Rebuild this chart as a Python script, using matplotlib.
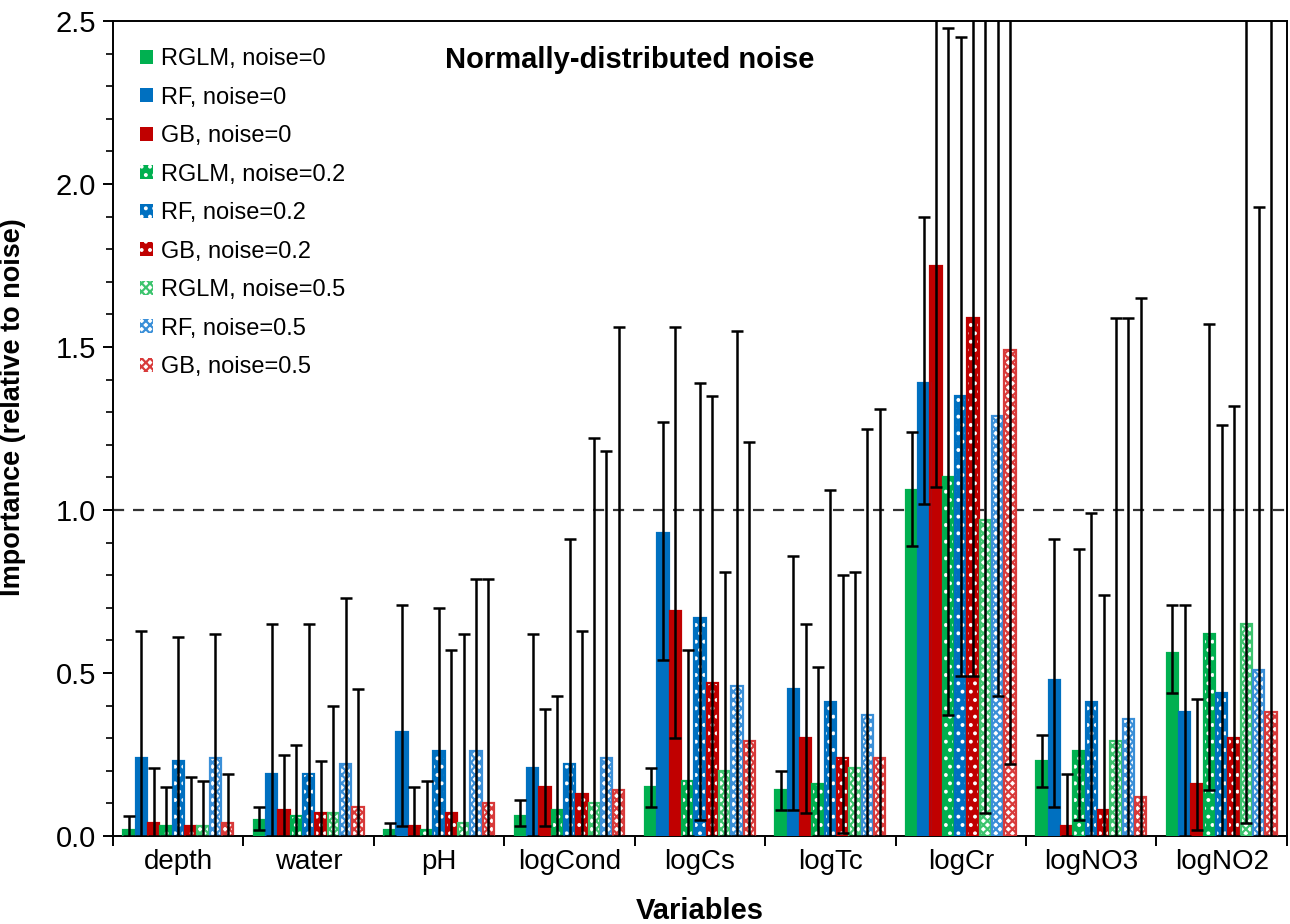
import matplotlib
matplotlib.use("Agg")
import matplotlib.pyplot as plt
import numpy as np
from matplotlib.patches import Patch

plt.rcParams['font.family'] = ['Liberation Sans', 'DejaVu Sans']
plt.rcParams['hatch.linewidth'] = 1.6

variables = ['depth', 'water', 'pH', 'logCond', 'logCs', 'logTc', 'logCr', 'logNO3', 'logNO2']

series = ['RGLM, noise=0', 'RF, noise=0', 'GB, noise=0',
          'RGLM, noise=0.2', 'RF, noise=0.2', 'GB, noise=0.2',
          'RGLM, noise=0.5', 'RF, noise=0.5', 'GB, noise=0.5']

# mean importance, one list per series (order of variables)
rglm_0 = [0.02, 0.05, 0.02, 0.06, 0.15, 0.14, 1.06, 0.23, 0.56]
rf_0 = [0.24, 0.19, 0.32, 0.21, 0.93, 0.45, 1.39, 0.48, 0.38]
gb_0 = [0.04, 0.08, 0.03, 0.15, 0.69, 0.30, 1.75, 0.03, 0.16]
rglm_02 = [0.03, 0.06, 0.02, 0.08, 0.17, 0.16, 1.10, 0.26, 0.62]
rf_02 = [0.23, 0.19, 0.26, 0.22, 0.67, 0.41, 1.35, 0.41, 0.44]
gb_02 = [0.03, 0.07, 0.07, 0.13, 0.47, 0.24, 1.59, 0.08, 0.30]
rglm_05 = [0.03, 0.07, 0.04, 0.10, 0.20, 0.21, 0.97, 0.29, 0.65]
rf_05 = [0.24, 0.22, 0.26, 0.24, 0.46, 0.37, 1.29, 0.36, 0.51]
gb_05 = [0.04, 0.09, 0.10, 0.14, 0.29, 0.24, 1.49, 0.12, 0.38]

# upper end of the error bars
rglm_0_hi = [0.06, 0.09, 0.04, 0.11, 0.21, 0.20, 1.24, 0.31, 0.71]
rf_0_hi = [0.63, 0.65, 0.71, 0.62, 1.27, 0.86, 1.90, 0.91, 0.71]
gb_0_hi = [0.21, 0.25, 0.15, 0.39, 1.56, 0.65, 2.70, 0.19, 0.42]
rglm_02_hi = [0.15, 0.28, 0.17, 0.43, 0.57, 0.52, 2.48, 0.88, 1.57]
rf_02_hi = [0.61, 0.65, 0.70, 0.91, 1.39, 1.06, 2.45, 0.99, 1.26]
gb_02_hi = [0.18, 0.23, 0.57, 0.63, 1.35, 0.80, 2.80, 0.74, 1.32]
rglm_05_hi = [0.17, 0.40, 0.62, 1.22, 0.81, 0.81, 2.90, 1.59, 2.70]
rf_05_hi = [0.62, 0.73, 0.79, 1.18, 1.55, 1.25, 2.70, 1.59, 1.93]
gb_05_hi = [0.19, 0.45, 0.79, 1.56, 1.21, 1.31, 2.80, 1.65, 2.70]

# lower end of the error bars (0 where it runs to the axis)
rglm_0_lo = [0.0, 0.02, 0.0, 0.03, 0.09, 0.08, 0.89, 0.15, 0.44]
rf_0_lo = [0.0, 0.0, 0.03, 0.0, 0.54, 0.08, 1.02, 0.09, 0.0]
gb_0_lo = [0.0, 0.0, 0.0, 0.03, 0.30, 0.07, 1.07, 0.0, 0.02]
rglm_02_lo = [0.0, 0.0, 0.0, 0.0, 0.0, 0.0, 0.37, 0.05, 0.14]
rf_02_lo = [0.0, 0.0, 0.0, 0.0, 0.05, 0.0, 0.49, 0.0, 0.0]
gb_02_lo = [0.0, 0.0, 0.0, 0.0, 0.0, 0.01, 0.49, 0.0, 0.0]
rglm_05_lo = [0.0, 0.0, 0.0, 0.0, 0.0, 0.0, 0.07, 0.0, 0.04]
rf_05_lo = [0.0, 0.0, 0.0, 0.0, 0.0, 0.0, 0.43, 0.0, 0.0]
gb_05_lo = [0.0, 0.0, 0.0, 0.0, 0.0, 0.0, 0.22, 0.0, 0.0]

means = [rglm_0, rf_0, gb_0, rglm_02, rf_02, gb_02, rglm_05, rf_05, gb_05]
highs = [rglm_0_hi, rf_0_hi, gb_0_hi, rglm_02_hi, rf_02_hi, gb_02_hi,
         rglm_05_hi, rf_05_hi, gb_05_hi]
lows = [rglm_0_lo, rf_0_lo, gb_0_lo, rglm_02_lo, rf_02_lo, gb_02_lo,
        rglm_05_lo, rf_05_lo, gb_05_lo]

green = '#00B050'
blue = '#0070C0'
red = '#C00000'
light = {green: '#3CC46E', blue: '#3A8FD8', red: '#D83A3A'}
colors = [green, blue, red] * 3
levels = [0, 0, 0, 1, 1, 1, 2, 2, 2]

fig = plt.figure(figsize=(12.9, 9.24), dpi=100)
ax = fig.add_axes([0.0876, 0.0952, 0.91, 0.882])

x = np.arange(len(variables))
w = 0.0945


def style(c, lev):
    if lev == 0:
        return dict(facecolor=c, edgecolor=c, hatch=None)
    if lev == 1:
        return dict(facecolor=c, edgecolor='white', hatch='..')
    return dict(facecolor='white', edgecolor=light[c], hatch='xxxx')


handles = []
for j in range(9):
    pos = x + (j - 4) * w
    vals = np.array(means[j])
    c = colors[j]
    lev = levels[j]
    st = style(c, lev)
    ax.bar(pos, vals, w, facecolor=st['facecolor'], edgecolor=st['edgecolor'],
           hatch=st['hatch'], linewidth=0, zorder=2)
    edge = c if lev < 2 else light[c]
    ax.bar(pos, vals, w * 0.92, fill=False, edgecolor=edge, linewidth=1.6, zorder=3)
    yerr = [vals - np.array(lows[j]), np.array(highs[j]) - vals]
    ax.errorbar(pos, vals, yerr=yerr, fmt='none', ecolor='black', elinewidth=1.8,
                capsize=4.5, capthick=1.8, zorder=4)
    handles.append(Patch(facecolor=st['facecolor'], edgecolor=st['edgecolor'],
                         hatch=st['hatch'], linewidth=0, label=series[j]))

ax.axhline(1.0, color='#333333', linestyle=(0, (5, 4)), linewidth=1.6, zorder=1)

ax.set_xlim(-0.5, len(variables) - 0.5)
ax.set_ylim(0, 2.5)
ax.set_xticks(x)
ax.set_xticklabels(variables, fontsize=20)
ax.set_xticks(np.arange(-0.5, len(variables), 1), minor=True)
ax.tick_params(axis='x', which='major', length=0, pad=9)
ax.tick_params(axis='x', which='minor', length=7, width=1.4, direction='out')
ax.set_yticks(np.arange(0, 2.51, 0.5))
ax.set_yticklabels([f'{v:.1f}' for v in np.arange(0, 2.51, 0.5)], fontsize=21)
ax.set_yticks(np.arange(0, 2.51, 0.1), minor=True)
ax.tick_params(axis='y', which='major', length=7, width=1.4, direction='out', pad=5)
ax.tick_params(axis='y', which='minor', length=5, width=1.2, direction='out')
for s in ax.spines.values():
    s.set_linewidth(1.4)

ax.set_xlabel('Variables', fontsize=21, fontweight='bold', labelpad=16)
ax.set_ylabel('Importance (relative to noise)', fontsize=19.5, fontweight='bold')
ax.yaxis.set_label_coords(-0.074, 0.526)

ax.text(0.44, 0.952, 'Normally-distributed noise', transform=ax.transAxes,
        ha='center', va='center', fontsize=21, fontweight='bold')

ax.legend(handles=handles, loc='upper left', bbox_to_anchor=(0.015, 0.9785), frameon=False,
          fontsize=17, handlelength=0.55, handleheight=0.55, handletextpad=0.35,
          labelspacing=0.7, borderaxespad=0)

fig.savefig('out.png', dpi=100)
